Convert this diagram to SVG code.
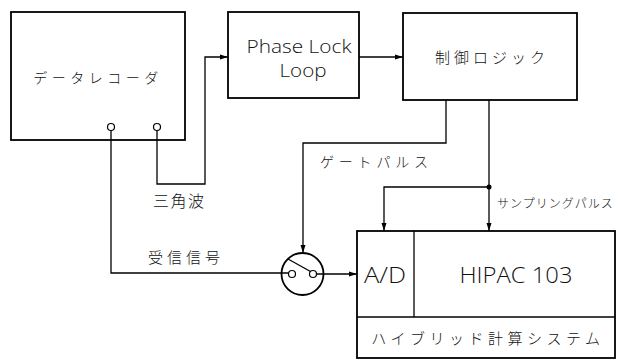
<svg xmlns="http://www.w3.org/2000/svg" width="618" height="363" viewBox="0 0 618 363">
<style>
.box{fill:#fff;stroke:#000;stroke-width:1.8}
.ln{fill:none;stroke:#000;stroke-width:1.3}
.jp{font-family:"Noto Sans CJK JP","Noto Sans",sans-serif;font-weight:300;fill:#111}
.en{font-family:"Open Sans","Liberation Sans",sans-serif;font-weight:300;fill:#111}
</style>
<defs>
<marker id="ah" viewBox="0 0 8 6" refX="8" refY="3" markerWidth="8" markerHeight="6" markerUnits="userSpaceOnUse" orient="auto">
<path d="M0,0.5 L8,3 L0,5.5 Z" fill="#000"/>
</marker>
</defs>
<rect width="618" height="363" fill="#fff"/>
<g id="recorder">
<rect class="box" x="11" y="12" width="174" height="128"/>
<text class="jp" x="98" y="83" font-size="14" text-anchor="middle" letter-spacing="4.5">データレコーダ</text>
<circle cx="111" cy="127" r="3.5" fill="#fff" stroke="#000" stroke-width="1.2"/>
<circle cx="157" cy="127" r="3.5" fill="#fff" stroke="#000" stroke-width="1.2"/>
</g>
<g id="pll">
<rect class="box" x="228" y="12" width="131" height="86"/>
<text class="en" x="299" y="53" font-size="19" text-anchor="middle" textLength="105" lengthAdjust="spacingAndGlyphs">Phase Lock</text>
<text class="en" x="303" y="77" font-size="19" text-anchor="middle" textLength="47" lengthAdjust="spacingAndGlyphs">Loop</text>
</g>
<g id="logic">
<rect class="box" x="403" y="13" width="174" height="87"/>
<text class="jp" x="492" y="63" font-size="15" text-anchor="middle" letter-spacing="4">制御ロジック</text>
</g>
<g id="switch">
<circle cx="302.5" cy="274" r="21" fill="#fff" stroke="#000" stroke-width="1.8"/>
<circle cx="292" cy="274" r="3.5" fill="#fff" stroke="#000" stroke-width="1.2"/>
<circle cx="313" cy="274" r="3.5" fill="#fff" stroke="#000" stroke-width="1.2"/>
<line class="ln" x1="288" y1="259" x2="310.5" y2="271.5"/>
</g>
<g id="hipac">
<rect class="box" x="357" y="231" width="258" height="127"/>
<line class="ln" x1="414" y1="231" x2="414" y2="317"/>
<line class="ln" x1="357" y1="317" x2="615" y2="317"/>
<text class="en" x="385" y="283" font-size="22" text-anchor="middle" textLength="42" lengthAdjust="spacingAndGlyphs">A/D</text>
<text class="en" x="516" y="283" font-size="22" text-anchor="middle" textLength="113" lengthAdjust="spacingAndGlyphs">HIPAC 103</text>
<text class="jp" x="488" y="344" font-size="15" text-anchor="middle" letter-spacing="4.5">ハイブリッド計算システム</text>
</g>
<g id="connectors">
<polyline class="ln" points="157,130.5 157,184 205,184 205,57 228,57" marker-end="url(#ah)"/>
<line class="ln" x1="359" y1="57" x2="403" y2="57" marker-end="url(#ah)"/>
<polyline class="ln" points="111,130.5 111,273 288.5,273"/>
<polyline class="ln" points="446,100 446,143 303,143 303,253" marker-end="url(#ah)"/>
<line class="ln" x1="316.5" y1="274" x2="357" y2="274" marker-end="url(#ah)"/>
<line class="ln" x1="489" y1="100" x2="489" y2="231" marker-end="url(#ah)"/>
<polyline class="ln" points="489,187 384,187 384,231" marker-end="url(#ah)"/>
<circle cx="489" cy="187" r="2.5" fill="#000"/>
</g>
<g id="labels">
<text class="jp" x="153" y="207" font-size="16" letter-spacing="1.5">三角波</text>
<text class="jp" x="148" y="263" font-size="15" letter-spacing="4">受信信号</text>
<text class="jp" x="320" y="167" font-size="14" letter-spacing="4.8">ゲートパルス</text>
<text class="jp" x="497" y="208" font-size="12" letter-spacing="1">サンプリングパルス</text>
</g>
</svg>
